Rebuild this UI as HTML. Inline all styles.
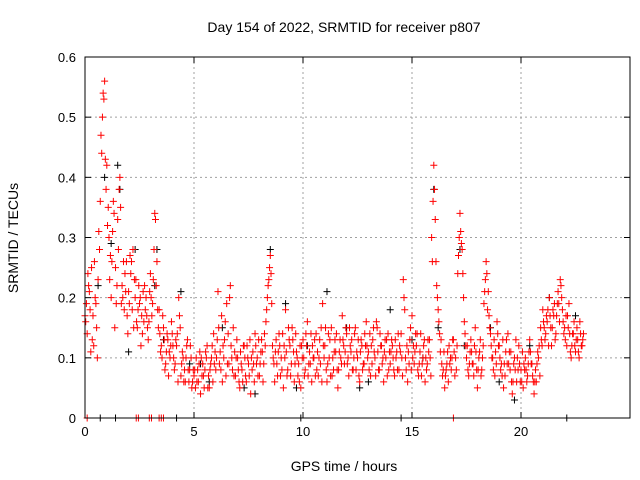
<!DOCTYPE html>
<html><head><meta charset="utf-8"><style>
html,body{margin:0;padding:0;background:#fff;}
svg{display:block;font-family:"Liberation Sans",sans-serif;}
</style></head><body>
<svg id="chart" width="640" height="480" viewBox="0 0 640 480" xmlns="http://www.w3.org/2000/svg">
<rect x="0" y="0" width="640" height="480" fill="#fff"/>
<text x="344" y="32" text-anchor="middle" font-size="14">Day 154 of 2022, SRMTID for receiver p807</text>
<text x="344" y="471" text-anchor="middle" font-size="14">GPS time / hours</text>
<text x="18" y="238" text-anchor="middle" font-size="14" transform="rotate(-90 18 238)">SRMTID / TECUs</text>
<g id="grid"></g>
<g id="axes"></g>
<g id="marks"></g>
<rect x="85" y="57" width="545" height="361" fill="none" stroke="#000" stroke-width="1"/>
</svg>
<script>
const xTicks=[0,5,10,15,20];
const yTicks=[0,0.1,0.2,0.3,0.4,0.5,0.6];
const yTickLabels=["0","0.1","0.2","0.3","0.4","0.5","0.6"];
const redA=[0.17,0.14,0.21,0.25,0.12,0.19,0.23,0.36,0.50,0.56,
0.42,0.30,0.20,0.36,0.25,0.33,0.40,0.22,0.18,0.26,
0.21,0.24,0.28,0.20,0.15,0.19,0.17,0.16,0.20,0.13,
0.24,0.19,0.34,0.26,0.18,0.12,0.15,0.09,0.13,0.10,
0.14,0.08,0.12,0.20,0.07,0.10,0.06,0.13,0.08,0.05,
0.07,0.10,0.06,0.04,0.09,0.08,0.12,0.05,0.10,0.14,
0.08,0.21,0.11,0.06,0.13,0.19,0.09,0.12,0.15,0.07,
0.10,0.05,0.08,0.12,0.06,0.09,0.04,0.11,0.14,0.10,
0.07,0.13,0.09,0.16,0.22,0.27,0.12,0.06,0.09,0.14,
0.10,0.05,0.18,0.08,0.12,0.15,0.06,0.11,0.09,0.05,
0.13,0.08,0.16,0.11,0.06,0.10,0.14,0.07,0.09,0.19,
0.12,0.06,0.10,0.15,0.08,0.11,0.05,0.13,0.17,0.09,
0.14,0.07,0.11,0.08,0.15,0.10,0.06,0.12,0.09,0.16,
0.11,0.07,0.13,0.10,0.15,0.08,0.12,0.06,0.10,0.14,
0.09,0.12,0.07,0.11,0.08,0.14,0.23,0.10,0.06,0.13,
0.17,0.09,0.12,0.07,0.14,0.10,0.06,0.09,0.13,0.30,
0.42,0.26,0.18,0.11,0.07,0.05,0.09,0.12,0.08,0.13,
0.10,0.24,0.34,0.28,0.16,0.10,0.07,0.13,0.09,0.15,
0.05,0.11,0.08,0.19,0.26,0.21,0.14,0.10,0.07,0.16,
0.12,0.09,0.05,0.11,0.14,0.08,0.04,0.10,0.06,0.12,
0.08,0.05,0.10,0.07,0.13,0.09,0.04,0.06,0.10,0.15,
0.18,0.13,0.16,0.20,0.12,0.17,0.14,0.21,0.23,0.18,
0.15,0.12,0.19,0.10,0.14,0.11,0.13,0.16,0.12];
const redB=[0.19,0.22,0.11,0.17,0.20,0.10,0.28,0.44,0.53,0.38,
0.35,0.27,0.31,0.15,0.22,0.38,0.19,0.26,0.21,0.14,
0.27,0.18,0.23,0.16,0.22,0.12,0.21,0.18,0.15,0.21,
0.17,0.28,0.22,0.15,0.11,0.17,0.08,0.14,0.11,0.16,
0.10,0.13,0.06,0.15,0.11,0.08,0.12,0.06,0.10,0.08,
0.05,0.08,0.11,0.07,0.05,0.10,0.07,0.09,0.06,0.11,
0.13,0.09,0.17,0.10,0.07,0.14,0.22,0.08,0.11,0.13,
0.06,0.09,0.12,0.07,0.10,0.13,0.08,0.06,0.09,0.13,
0.11,0.06,0.12,0.20,0.25,0.19,0.09,0.13,0.11,0.07,
0.14,0.10,0.07,0.13,0.09,0.11,0.14,0.07,0.12,0.10,
0.07,0.12,0.09,0.14,0.10,0.07,0.11,0.13,0.06,0.10,
0.08,0.14,0.07,0.10,0.13,0.08,0.11,0.09,0.12,0.15,
0.10,0.12,0.08,0.14,0.11,0.07,0.13,0.09,0.12,0.10,
0.14,0.09,0.11,0.16,0.08,0.12,0.10,0.13,0.07,0.11,
0.13,0.08,0.10,0.14,0.11,0.07,0.18,0.12,0.09,0.08,
0.12,0.14,0.08,0.11,0.09,0.13,0.08,0.11,0.07,0.36,
0.33,0.20,0.14,0.09,0.11,0.08,0.06,0.10,0.13,0.07,
0.12,0.30,0.29,0.20,0.12,0.08,0.11,0.09,0.12,0.08,
0.10,0.07,0.12,0.23,0.18,0.15,0.10,0.13,0.09,0.12,
0.08,0.13,0.07,0.09,0.11,0.06,0.09,0.13,0.08,0.06,
0.11,0.08,0.06,0.11,0.09,0.06,0.08,0.11,0.07,0.12,
0.15,0.17,0.12,0.15,0.18,0.13,0.19,0.16,0.20,0.14,
0.17,0.15,0.11,0.14,0.12,0.15,0.10,0.12,0.14];
const redC=[0.16,0.24,0.18,0.13,0.26,0.15,0.31,0.47,0.54,0.43,
0.32,0.23,0.26,0.34,0.19,0.28,0.35,0.20,0.24,0.17,
0.19,0.26,0.15,0.23,0.18,0.20,0.14,0.22,0.17,0.16,
0.20,0.23,0.33,0.18,0.14,0.10,0.13,0.11,0.07,0.12,
0.12,0.09,0.14,0.17,0.09,0.06,0.10,0.08,0.12,0.06,
0.08,0.06,0.09,0.10,0.07,0.11,0.05,0.08,0.12,0.09,
0.10,0.15,0.08,0.12,0.16,0.09,0.20,0.10,0.07,0.10,
0.08,0.11,0.06,0.10,0.12,0.07,0.10,0.09,0.12,0.07,
0.09,0.11,0.14,0.18,0.23,0.24,0.10,0.11,0.07,0.12,
0.08,0.12,0.11,0.15,0.07,0.13,0.09,0.10,0.06,0.12,
0.10,0.14,0.07,0.09,0.12,0.13,0.08,0.10,0.15,0.12,
0.15,0.09,0.13,0.07,0.11,0.14,0.08,0.10,0.13,0.11,
0.09,0.15,0.13,0.10,0.08,0.13,0.11,0.08,0.14,0.12,
0.08,0.12,0.15,0.07,0.11,0.14,0.09,0.11,0.13,0.08,
0.11,0.10,0.13,0.08,0.12,0.10,0.20,0.08,0.11,0.15,
0.10,0.11,0.14,0.09,0.07,0.12,0.10,0.13,0.10,0.26,
0.38,0.22,0.16,0.13,0.08,0.07,0.11,0.09,0.10,0.11,
0.08,0.27,0.31,0.24,0.14,0.12,0.09,0.11,0.07,0.11,
0.08,0.13,0.10,0.21,0.24,0.17,0.12,0.08,0.11,0.14,
0.10,0.07,0.09,0.13,0.09,0.11,0.06,0.08,0.10,0.09,
0.06,0.09,0.08,0.09,0.11,0.07,0.06,0.09,0.12,0.13,
0.16,0.14,0.18,0.17,0.15,0.19,0.17,0.19,0.22,0.16,
0.13,0.17,0.14,0.12,0.16,0.13,0.11,0.14,0.13];
const redStartA=0.0, redStartB=0.066, redStartC=0.033, redStep=0.1;
const blackTimes=[0.9,1.5,1.6,2.3,3.3,3.2,0.6,1.2,4.4,5.3,5.7,6.3,7.3,8.5,9.2,10.2,11.1,12.0,13.0,14.0,15.5,16.0,16.2,17.2,17.4,18.6,19.7,20.4,21.3,22.5,2.0,3.6,4.8,7.8,9.7,12.6,15.0,19.0];
const blackValues=[0.40,0.42,0.38,0.28,0.28,0.22,0.22,0.29,0.21,0.09,0.06,0.15,0.05,0.28,0.19,0.12,0.21,0.15,0.06,0.18,0.10,0.38,0.15,0.28,0.12,0.15,0.03,0.12,0.20,0.17,0.11,0.13,0.09,0.04,0.05,0.05,0.13,0.06];
const zeroRedTimes=[0.1,2.35,2.45,2.95,3.05,3.4,3.5,3.6,16.9];
const zeroBlackTimes=[0.7,1.4,4.2,9.9,14.5,22.1];

const NS="http://www.w3.org/2000/svg";
const X0=85,X1=630,Y0=418,Y1=57,XMAX=25,YMAX=0.6;
function sx(v){return X0+v/XMAX*(X1-X0);}
function sy(v){return Y0-v/YMAX*(Y0-Y1);}
function mk(tag,attrs,parent){const e=document.createElementNS(NS,tag);for(const k in attrs)e.setAttribute(k,attrs[k]);parent.appendChild(e);return e;}
const grid=document.getElementById('grid'),axes=document.getElementById('axes'),marks=document.getElementById('marks');
xTicks.forEach(t=>{
  const x=sx(t);
  if(t>0){const g=mk('line',{x1:x,x2:x,y1:Y1,y2:Y0,stroke:'#a0a0a0','stroke-dasharray':'2,3','stroke-width':1},grid);
  
  }
  mk('line',{x1:x,x2:x,y1:Y0,y2:Y0-6,stroke:'#000'},axes);
  mk('line',{x1:x,x2:x,y1:Y1,y2:Y1+6,stroke:'#000'},axes);
  const tx=mk('text',{x:x,y:Y0+18,'text-anchor':'middle','font-size':13},axes);
  tx.textContent=String(t);
  
  
});
yTicks.forEach((t,i)=>{
  const y=sy(t);
  if(t>0&&t<YMAX){const g=mk('line',{x1:X0,x2:X1,y1:y,y2:y,stroke:'#a0a0a0','stroke-dasharray':'2,3','stroke-width':1},grid);
  
  }
  mk('line',{x1:X0,x2:X0+6,y1:y,y2:y,stroke:'#000'},axes);
  mk('line',{x1:X1,x2:X1-6,y1:y,y2:y,stroke:'#000'},axes);
  const tx=mk('text',{x:X0-9,y:y+5,'text-anchor':'end','font-size':13},axes);
  tx.textContent=yTickLabels[i];
  
  
});
function plus(t,v,color,name){
  const x=sx(t),y=sy(v),s=3.5;
  const p=mk('path',{d:`M${x-s},${y}H${x+s}M${x},${y-s}V${y+s}`,stroke:color,'stroke-width':1,fill:'none'},marks);
  
  
}
blackTimes.forEach((t,i)=>plus(t,blackValues[i],'#000','black-point'));
zeroBlackTimes.forEach(t=>plus(t,0,'#000','black-zero-point'));
redA.forEach((v,i)=>plus(redStartA+i*redStep,v,'#f00','red-point'));
redB.forEach((v,i)=>plus(redStartB+i*redStep,v,'#f00','red-point'));
redC.forEach((v,i)=>plus(redStartC+i*redStep,v,'#f00','red-point'));
zeroRedTimes.forEach(t=>plus(t,0,'#f00','red-zero-point'));
</script>
</body></html>
